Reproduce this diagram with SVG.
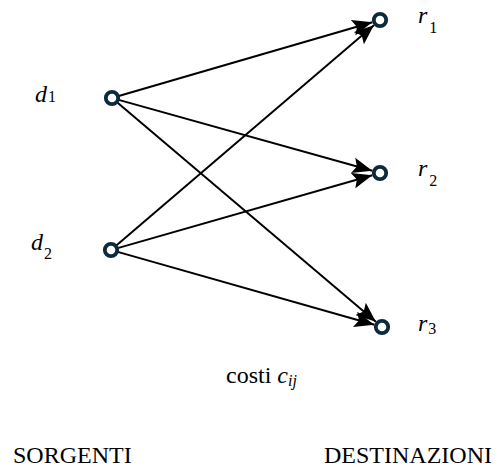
<svg xmlns="http://www.w3.org/2000/svg" width="499" height="469" viewBox="0 0 499 469">
<style>
.n{fill:#fff;stroke:#0c2a3b;stroke-width:3.8}
.e{stroke:#000;stroke-width:2;fill:none;marker-end:url(#ah)}
text{font-family:"Liberation Serif","Times New Roman",serif;fill:#000}
.i{font-style:italic;font-size:24px}
.s{font-size:16px}
.l{font-size:24px}
</style>
<defs>
<marker id="ah" markerUnits="userSpaceOnUse" markerWidth="22" markerHeight="16" refX="20" refY="8" orient="auto">
<path d="M0,0 L20,8 L0,16 L4,8 Z" fill="#000"/>
</marker>
</defs>
<rect width="499" height="469" fill="#fff"/>
<g id="connectors">
<line class="e" x1="118.7" y1="96" x2="372.3" y2="22.2"/>
<line class="e" x1="118.7" y1="99.9" x2="372.3" y2="170.8"/>
<line class="e" x1="117.3" y1="102.5" x2="375.9" y2="321.8"/>
<line class="e" x1="116.3" y1="245.5" x2="373.9" y2="25.2"/>
<line class="e" x1="117.7" y1="248.1" x2="372.3" y2="175.2"/>
<line class="e" x1="117.7" y1="251.9" x2="374.3" y2="324.8"/>
</g>
<g id="d1"><circle class="n" cx="112" cy="98" r="6.2"/><text x="35" y="102"><tspan class="i">d</tspan><tspan class="s" dx="1">1</tspan></text></g>
<g id="d2"><circle class="n" cx="111" cy="250" r="6.2"/><text x="31" y="250"><tspan class="i">d</tspan><tspan class="s" dx="1" dy="9">2</tspan></text></g>
<g id="r1"><circle class="n" cx="380" cy="20" r="6.2"/><text x="418" y="23"><tspan class="i">r</tspan><tspan class="s" dx="2" dy="10">1</tspan></text></g>
<g id="r2"><circle class="n" cx="380" cy="173" r="6.2"/><text x="418" y="176"><tspan class="i">r</tspan><tspan class="s" dx="2" dy="10">2</tspan></text></g>
<g id="r3"><circle class="n" cx="382" cy="327" r="6.2"/><text x="418" y="331"><tspan class="i">r</tspan><tspan class="s" dx="1" dy="3">3</tspan></text></g>
<text x="226" y="383" font-size="24">costi <tspan font-style="italic">c</tspan><tspan font-style="italic" font-size="16" dy="3">ij</tspan></text>
<text class="l" x="13" y="463">SORGENTI</text>
<text class="l" x="492" y="463" text-anchor="end">DESTINAZIONI</text>
</svg>
